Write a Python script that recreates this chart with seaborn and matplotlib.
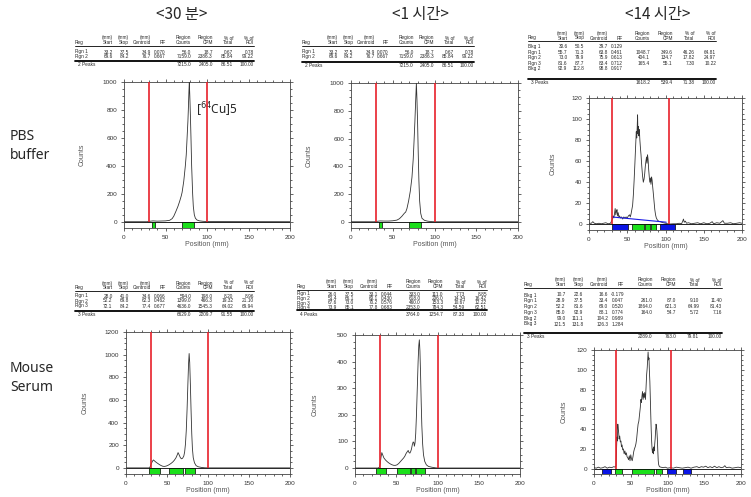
import matplotlib
matplotlib.use("Agg")
import matplotlib.pyplot as plt
import seaborn as sns
from matplotlib.patches import Rectangle
from matplotlib.lines import Line2D
from matplotlib.ticker import MultipleLocator, AutoMinorLocator

W, H = 751, 497

# ---- chromatogram traces (position mm, counts) ----
pbs30_pos = [0, 28, 31, 35, 40, 45, 50, 55, 58, 60, 62.6, 65, 67, 69, 70, 72, 73.9, 75, 76, 77, 77.5, 78.2,
             78.7, 79.3, 80, 80.7, 81.5, 82.7, 83.5, 84.7, 86, 88, 91, 95, 100, 200]
pbs30_cnt = [0, 0, 3, 6, 4, 5, 6, 10, 22, 40, 75, 110, 145, 185, 210, 290, 400, 480, 600, 720, 800, 930,
             1000, 900, 760, 600, 400, 200, 110, 50, 25, 12, 6, 3, 1, 0]

pbs1h_pos = [0, 28, 31, 35, 40, 45, 50, 55, 58, 61, 64, 65.5, 67, 69, 71, 73, 74.5, 75.5, 76.5, 77.5, 78.3,
             79, 79.8, 80.5, 81.3, 82.2, 83.5, 85, 88, 92, 97, 100, 200]
pbs1h_cnt = [0, 0, 3, 6, 5, 5, 7, 12, 22, 40, 62, 70, 95, 150, 220, 320, 450, 580, 720, 880, 1000,
             880, 700, 500, 300, 150, 60, 25, 10, 4, 1, 0, 0]

pbs14_pos = [0, 3, 5, 7, 10, 13, 16, 19, 22, 25, 28, 29.5, 30.5, 31.5, 32.5, 33.5, 34.2, 35, 35.8, 36.6,
             37.4, 38.2, 39, 40, 41, 42.5, 44, 45.5, 47, 48.5, 50, 51.5, 53, 54, 55, 56, 57, 58, 59, 60, 61,
             61.8, 62.4, 63, 63.5, 64, 64.6, 65.2, 65.8, 66.5, 67.3, 68, 69, 70, 71, 72, 72.8, 73.6, 74.4,
             75.2, 75.8, 76.5, 77.2, 78, 78.8, 79.5, 80.3, 81, 81.8, 82.5, 83.2, 84, 85, 86, 87, 88, 89.5,
             91, 93, 95, 97, 100, 103, 106, 110, 114, 118, 121, 122.5, 123.5, 124.5, 126, 127.5, 130, 134,
             138, 142, 146, 150, 154, 158, 161, 163, 167, 171, 175, 177, 181, 185, 189, 193, 197, 200]
pbs14_cnt = [1, 1, 2.5, 1, 0.5, 1, 0.5, 1, 1.5, 0.5, 1, 3, 5, 8, 6, 11, 15, 9, 12, 14,
             8, 11, 7, 8, 6, 7, 5, 7, 6, 7, 6, 8, 9, 7, 10, 14, 18, 28, 42, 58, 75,
             88, 82, 92, 104, 86, 93, 84, 90, 80, 72, 66, 55, 46, 40, 43, 48, 55, 60,
             64, 58, 66, 62, 52, 45, 40, 44, 38, 45, 42, 36, 30, 22, 14, 9, 6, 4,
             3, 2.5, 2, 1.5, 1, 0.5, 0.3, 0.5, 0.5, 1, 0.5, 3, 5, 2, 3, 1, 1.5, 0.5,
             1, 1.5, 0.5, 1.5, 0.5, 1, 2.5, 0.5, 1.5, 1, 3.5, 1, 1, 1.5, 0.5, 1, 1.5, 1]
pbs14_bkg_pos = [30, 101]
pbs14_bkg_cnt = [7, 2]

ms30_pos = [0, 28, 29.5, 31, 32.5, 33.5, 35, 37, 39, 41, 43, 45, 47, 49, 51, 53, 55, 57, 59, 61, 62.5, 63.5,
            64.5, 66, 67.5, 69, 70.5, 71.5, 72.5, 73.5, 74.5, 75.5, 76.3, 77, 77.7, 78.5, 79.3, 80.2, 81, 82,
            83.5, 85.5, 88, 92, 96, 100, 200]
ms30_cnt = [0, 0, 10, 40, 62, 70, 60, 48, 38, 28, 20, 14, 13, 16, 22, 30, 40, 52, 68, 90, 115, 135,
            120, 95, 80, 85, 105, 140, 210, 330, 520, 750, 920, 1010, 930, 740, 520, 300, 170, 90,
            45, 20, 10, 4, 1, 0, 0]

ms1h_pos = [0, 28, 29.5, 30.5, 31.5, 32.5, 33.5, 35, 37, 39, 41, 43, 45, 47, 49, 51, 53, 55, 57, 59, 60.5,
            62, 63.5, 64.5, 65.5, 66.5, 67.5, 68.5, 69.5, 70.5, 71.3, 72, 72.8, 73.6, 74.5, 75.5, 76.5, 77.3,
            78, 78.7, 79.5, 80.3, 81, 82, 83, 84.5, 86.5, 89, 93, 97, 100, 200]
ms1h_cnt = [0, 0, 3, 15, 40, 58, 50, 38, 30, 24, 19, 15, 12, 10, 10, 12, 17, 24, 31, 38, 45,
            55, 62, 66, 58, 56, 62, 72, 88, 98, 96, 82, 95, 130, 200, 300, 400, 460,
            482, 440, 350, 240, 160, 90, 50, 25, 12, 6, 3, 1, 0, 0]

ms14_pos = [0, 3, 6, 9, 12, 15, 18, 21, 24, 27, 29, 30, 30.6, 31.2, 31.8, 32.4, 33, 33.6, 34.2, 35, 35.8,
            36.6, 37.4, 38.2, 39, 40, 41, 42, 43, 44, 45, 46, 47, 48, 49, 50, 51, 52, 53, 54, 55, 56, 57, 58,
            59, 60, 61, 62, 63, 63.8, 64.5, 65.2, 66, 66.8, 67.5, 68.3, 69, 70, 70.8, 71.6, 72.4, 73, 73.6,
            74.2, 74.8, 75.4, 76, 76.6, 77.2, 77.8, 78.4, 79, 79.6, 80.2, 80.8, 81.4, 82, 82.6, 83.2, 83.8,
            84.4, 85, 85.6, 86.2, 86.8, 87.4, 88, 89, 91, 94, 97, 100, 104, 108, 112, 116, 120, 124, 128,
            132, 136, 140, 143, 146, 149, 152, 155, 158, 161, 164, 167, 170, 173, 176, 178, 180, 184, 188,
            192, 196, 200]
ms14_cnt = [1, 0.5, 1.5, 0.5, 1, 2, 0.5, 1.5, 1, 2, 1.5, 3, 18, 32, 28, 45, 40, 36, 30, 33, 27,
            28, 22, 24, 19, 20, 15, 18, 14, 16, 12, 11, 9, 13, 8, 14, 10, 8, 12, 17, 20, 22, 25, 30,
            38, 45, 48, 55, 62, 70, 67, 73, 78, 70, 76, 72, 77, 70, 82, 95, 102, 110, 118,
            110, 112, 98, 88, 72, 55, 40, 28, 20, 16, 20, 15, 22, 18, 25, 30, 38,
            45, 43, 38, 30, 18, 8, 4, 2, 1.5, 1, 1.5, 0.5, 1, 0.5, 1.5, 1, 0.5, 1, 1.5,
            0.5, 1.5, 2, 1, 2, 1.5, 2.5, 1, 2, 1, 2.5, 1, 2, 1, 1.5, 3, 1, 1.5, 0.5,
            1, 1.5, 1]

# ---- region tables ----
pbs30_rows = [["Rgn 1", "33.2", "37.5", "34.9", "0.070", "56.0", "18.7", "0.67", "0.78"],
              ["Rgn 2", "69.6", "84.2", "76.7", "0.667", "7159.0", "2386.3", "85.84", "99.22"]]
pbs30_sum = ["2 Peaks", "7215.0", "2405.0", "86.51", "100.00"]

pbs1h_rows = pbs30_rows
pbs1h_sum = pbs30_sum

pbs14_rows = [["Bkg 1", "30.6", "50.5", "39.7", "0.129", "", "", "", ""],
              ["Rgn 1", "55.7", "71.3", "63.8", "0.461", "1048.7", "349.6", "46.26", "64.81"],
              ["Rgn 2", "73.0", "79.9", "75.9", "0.613", "404.1", "134.7", "17.82", "24.97"],
              ["Rgn 3", "81.6", "87.7", "83.4", "0.712", "165.4", "55.1", "7.30", "10.22"],
              ["Bkg 2", "92.9", "112.8", "98.8", "0.917", "", "", "", ""]]
pbs14_sum = ["3 Peaks", "1618.2", "539.4", "71.38", "100.00"]

ms30_rows = [["Rgn 1", "28.0", "41.0", "34.6", "0.066", "594.0", "198.0", "8.20", "8.96"],
             ["Rgn 2", "52.2", "69.8", "62.3", "0.462", "1399.0", "466.3", "19.32", "21.10"],
             ["Rgn 3", "72.1", "84.2", "77.4", "0.677", "4636.0", "1545.3", "64.02", "69.94"]]
ms30_sum = ["3 Peaks", "6629.0", "2209.7", "91.55", "100.00"]

ms1h_rows = [["Rgn 1", "26.0", "37.5", "33.1", "0.044", "333.0", "111.0", "7.73", "8.85"],
             ["Rgn 2", "51.4", "66.1", "60.1", "0.430", "618.0", "206.0", "14.34", "16.42"],
             ["Rgn 3", "67.6", "73.0", "70.2", "0.576", "460.0", "153.3", "10.67", "12.22"],
             ["Rgn 4", "73.9", "85.1", "77.8", "0.683", "2353.0", "784.3", "54.59", "62.51"]]
ms1h_sum = ["4 Peaks", "3764.0", "1254.7", "87.33", "100.00"]

ms14_rows = [["Bkg 1", "10.7", "22.6", "16.6", "-0.179", "", "", "", ""],
             ["Rgn 1", "28.9", "37.5", "33.4", "0.047", "261.0", "87.0", "9.10", "11.40"],
             ["Rgn 2", "52.2", "81.6", "69.0", "0.520", "1864.0", "621.3", "64.99", "81.43"],
             ["Rgn 3", "85.0", "92.9", "88.1", "0.774", "164.0", "54.7", "5.72", "7.16"],
             ["Bkg 2", "99.0", "111.1", "104.2", "0.989", "", "", "", ""],
             ["Bkg 3", "121.5", "131.8", "126.3", "1.284", "", "", "", ""]]
ms14_sum = ["3 Peaks", "2289.0", "763.0", "79.81", "100.00"]

col_titles = ["<30 분>", "<1 시간>", "<14 시간>"]
row_titles = ["PBS\nbuffer", "Mouse\nSerum"]

HEAD1 = ["", "(mm)", "(mm)", "(mm)", "", "Region", "Region", "% of", "% of"]
HEAD2 = ["Reg", "Start", "Stop", "Centroid", "RF", "Counts", "CPM", "Total", "ROI"]
COL_X = [0.0, 0.21, 0.30, 0.425, 0.505, 0.65, 0.77, 0.885, 1.0]

sns.set_style("ticks")
plt.rcParams["font.family"] = ["Liberation Sans", "DejaVu Sans"]

fig = plt.figure(figsize=(7.51, 4.97), dpi=100)


def fx(x):
    return x / W


def fy(y):
    return 1 - y / H


def hline(x0, x1, y, lw):
    fig.add_artist(Line2D([fx(x0), fx(x1)], [fy(y), fy(y)], color="black", lw=lw))


def draw_table(left, right, y_head, y_row0, step, y_sum, rows, summary):
    w = right - left
    fs = 3.4
    for j in range(9):
        x = left + COL_X[j] * w
        ha = "left" if j == 0 else "right"
        fig.text(fx(x), fy(y_head), HEAD1[j], ha=ha, va="center", fontsize=fs)
        fig.text(fx(x), fy(y_head + 4.5), HEAD2[j], ha=ha, va="center", fontsize=fs)
    hline(left, right, y_head + 7.5, 0.6)
    for i, row in enumerate(rows):
        y = y_row0 + i * step
        for j, val in enumerate(row):
            x = left + COL_X[j] * w
            fig.text(fx(x), fy(y), val, ha="left" if j == 0 else "right", va="center", fontsize=fs)
    hline(left, right, y_sum - 4, 1.3)
    fig.text(fx(left + 3), fy(y_sum), summary[0], ha="left", va="center", fontsize=fs)
    for k, val in enumerate(summary[1:]):
        fig.text(fx(left + COL_X[5 + k] * w), fy(y_sum), val, ha="right", va="center", fontsize=fs)


def draw_panel(box, pos, cnt, ymax, ystep, red, rows, ylab_x, bkg_line=None):
    l, t, r, b = box
    ax = fig.add_axes([fx(l), fy(b), (r - l) / W, (b - t) / H])
    ymin = -0.045 * ymax
    # region boxes below zero line
    for row in rows:
        s, e = float(row[1]), float(row[2])
        c = "#0a14e6" if row[0].startswith("Bkg") else "#1be01b"
        ax.add_patch(Rectangle((s, ymin), e - s, -ymin, facecolor=c, edgecolor="black", lw=0.5, zorder=2))
    ax.axhline(0, color="black", lw=0.6, zorder=1)
    sns.lineplot(x=pos, y=cnt, ax=ax, color="#333333", lw=0.6, estimator=None, sort=False, zorder=3)
    if bkg_line is not None:
        sns.lineplot(x=bkg_line[0], y=bkg_line[1], ax=ax, color="#1a1ae6", lw=0.8, estimator=None, zorder=4)
    ax.vlines(red, 0, ymax, color="#e8202a", lw=1.2, zorder=5)
    ax.set_xlim(0, 200)
    ax.set_ylim(ymin, ymax)
    ax.xaxis.set_major_locator(MultipleLocator(50))
    ax.xaxis.set_minor_locator(MultipleLocator(10))
    ax.yaxis.set_major_locator(MultipleLocator(ystep))
    ax.yaxis.set_minor_locator(AutoMinorLocator(4))
    ax.tick_params(which="both", direction="out", top=True, right=True, labelsize=4.6,
                   labelcolor="#333333", width=0.5, pad=2.5)
    ax.tick_params(which="major", length=2.5)
    ax.tick_params(which="minor", length=1.5)
    for sp in ax.spines.values():
        sp.set_linewidth(0.6)
        sp.set_color("#444444")
    ax.set_xlabel("Position (mm)", fontsize=5, color="#555555", labelpad=1)
    ax.set_ylabel("Counts", fontsize=5, color="#555555")
    ax.yaxis.set_label_coords(-ylab_x, 0.5)
    return ax


ax1 = draw_panel((124, 82, 290, 228), pbs30_pos, pbs30_cnt, 1000, 200, [30, 100], pbs30_rows, 0.23)
ax2 = draw_panel((351, 83, 518, 228), pbs1h_pos, pbs1h_cnt, 1000, 200, [30, 100], pbs1h_rows, 0.23)
ax3 = draw_panel((589, 98, 742, 230), pbs14_pos, pbs14_cnt, 120, 20, [30, 104], pbs14_rows, 0.21,
                 bkg_line=(pbs14_bkg_pos, pbs14_bkg_cnt))
ax4 = draw_panel((126, 332, 290, 474), ms30_pos, ms30_cnt, 1200, 200, [30, 100], ms30_rows, 0.23)
ax5 = draw_panel((355, 335, 520, 474), ms1h_pos, ms1h_cnt, 500, 100, [30, 100], ms1h_rows, 0.22)
ax6 = draw_panel((594, 350, 741, 474), ms14_pos, ms14_cnt, 120, 20, [30, 105], ms14_rows, 0.18)

ax1.text(87, 800, "[$^{64}$Cu]5", fontsize=8.5, family="Noto Sans", va="center")

draw_table(75, 254, 38, 52, 4.8, 65, pbs30_rows, pbs30_sum)
draw_table(302, 474, 38, 52, 4.8, 65.5, pbs1h_rows, pbs1h_sum)
draw_table(528, 716, 33.5, 46.5, 5.6, 83, pbs14_rows, pbs14_sum)
draw_table(75, 254, 283, 296, 5, 315, ms30_rows, ms30_sum)
draw_table(297, 487, 282, 294, 4.5, 314, ms1h_rows, ms1h_sum)
draw_table(524, 722, 280, 295, 5.8, 336.5, ms14_rows, ms14_sum)

for x, title in zip([182, 420, 658], col_titles):
    fig.text(fx(x), fy(15), title, ha="center", va="center", fontsize=11,
             family=["Noto Sans CJK KR", "DejaVu Sans"])

for y, lab in zip([146, 378], row_titles):
    fig.text(fx(10), fy(y), lab, ha="left", va="center", fontsize=10, linespacing=1.35,
             family=["Noto Sans", "DejaVu Sans"])

fig.savefig("out.png", dpi=100)
